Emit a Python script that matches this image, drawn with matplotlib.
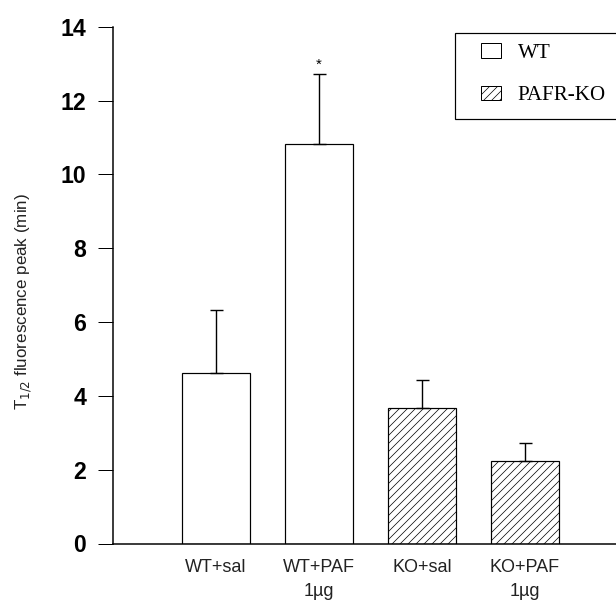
import matplotlib.pyplot as plt
from matplotlib.patches import Patch, Rectangle

# data
groups = ["WT+sal", "WT+PAF\n1\u00b5g", "KO+sal", "KO+PAF\n1\u00b5g"]
means = [4.63, 10.83, 3.68, 2.23]
sems = [1.69, 1.90, 0.75, 0.49]
hatches = ["", "", "///", "///"]

plt.rcParams['font.family'] = ['Liberation Sans', 'DejaVu Sans']
plt.rcParams['hatch.linewidth'] = 0.7

W, H = 616, 600
fig = plt.figure(figsize=(W/72, H/72), dpi=72)
ax = fig.add_axes([113/W, 1-543.5/H, (W-113)/W, (543.5-26.7)/H])

pos = [1, 2, 3, 4]
for p, m, s, h in zip(pos, means, sems, hatches):
    ax.bar(p, m, width=0.665, color='white', edgecolor='black', linewidth=1.2, hatch=h, zorder=2)
    ax.errorbar(p, m, yerr=[[0], [s]], fmt='none', ecolor='black', elinewidth=1.4, capsize=6.5, capthick=1.4, zorder=3)

ax.text(2, means[1] + sems[1] + 0.05, "*", ha='center', va='bottom', fontsize=15)

ax.set_xlim(0, (W-113)/103)
ax.set_ylim(0, 14)
ax.set_yticks(range(0, 15, 2))
ax.tick_params(axis='y', labelsize=23, length=15, width=1.0, pad=12)
for t in ax.get_yticklabels():
    t.set_fontweight('bold')
ax.set_xticks(pos)
ax.set_xticklabels(groups, fontsize=18, color='#222222', linespacing=1.6)
ax.tick_params(axis='x', length=0, pad=15)
ax.spines['top'].set_visible(False)
ax.spines['right'].set_visible(False)
ax.spines['left'].set_linewidth(1.5)
ax.spines['bottom'].set_linewidth(1.5)
ax.set_ylabel("T$_{1/2}$ fluorescence peak (min)", fontsize=17, color='#222222')
ax.yaxis.set_label_coords(-(113-34)/(W-113), (543.5-302)/(543.5-26.7))

# legend: frame drawn by hand, entries from the library
fig.patches.append(Rectangle((455/W, 1-119/H), (W-455+5)/W, 86/H, transform=fig.transFigure,
                             facecolor='white', edgecolor='black', linewidth=1.2, zorder=5))
handles = [Patch(facecolor='white', edgecolor='black', label='WT'),
           Patch(facecolor='white', edgecolor='black', hatch='///', label='PAFR-KO')]
leg = fig.legend(handles=handles, loc='upper left', bbox_to_anchor=(481/W, 1-43/H),
                 prop={'family': 'Liberation Serif', 'size': 21}, frameon=False,
                 handlelength=0.95, handleheight=0.72, borderpad=0,
                 labelspacing=1.08, borderaxespad=0, handletextpad=0.8)
leg.set_zorder(6)

fig.savefig("out.png", dpi=72)
